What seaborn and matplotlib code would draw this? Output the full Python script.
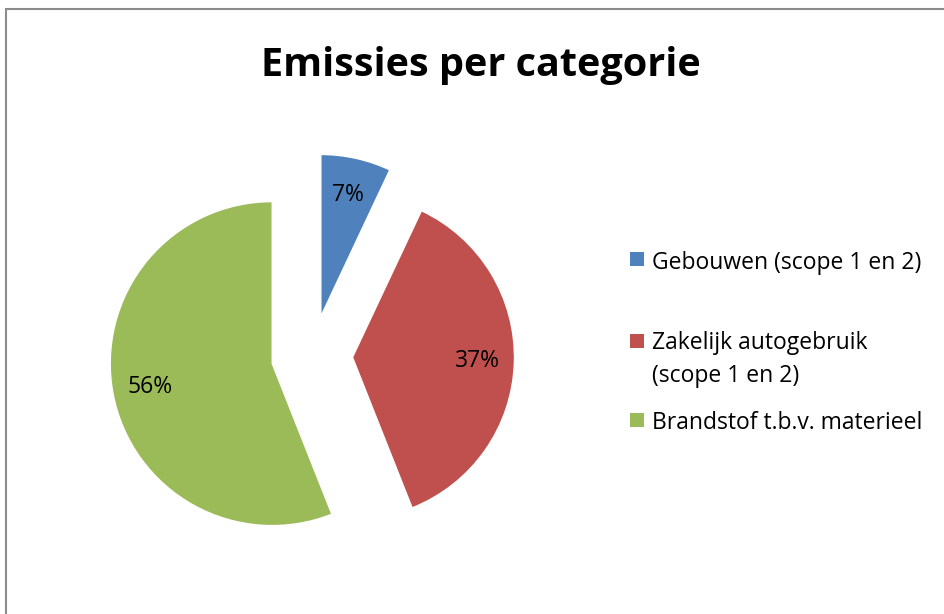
import matplotlib
matplotlib.use("Agg")
import matplotlib.pyplot as plt
import seaborn as sns
from matplotlib.patches import Rectangle

# data
categories = ["Gebouwen (scope 1 en 2)", "Zakelijk autogebruik", "Brandstof t.b.v. materieel"]
sublines = ["", "(scope 1 en 2)", ""]
shares = [7, 37, 56]
colors = ["#4F81BD", "#C0504D", "#9BBB59"]

sns.set_theme(style="white")
plt.rcParams['font.family'] = ['Open Sans', 'DejaVu Sans']

W, H = 944, 614
fig = plt.figure(figsize=(W / 100, H / 100), dpi=100)
fig.patch.set_facecolor("white")

# pie axes: center at (312, 356) px, radius 162 px, data range +-1.5
cx, cy, r = 312, 356, 162
span = 1.5 * r
ax = fig.add_axes([(cx - span) / W, (H - cy - span) / H, 2 * span / W, 2 * span / H])
wedges, texts, autotexts = ax.pie(
    shares,
    colors=colors,
    explode=[0.25] * len(shares),
    startangle=90,
    counterclock=False,
    autopct='%1.0f%%',
    pctdistance=0.77,
    textprops={'fontsize': 16.5, 'color': 'black'},
)
ax.set_xlim(-1.5, 1.5)
ax.set_ylim(-1.5, 1.5)
ax.set_aspect('equal')
ax.axis('off')

# title
fig.text(481 / W, 1 - 76 / H, "Emissies per categorie", ha='center', va='baseline',
         fontsize=28.5, fontweight='bold', color='black')

# legend (Excel style)
sq = 14
legend_rows = [(252, 269), (334, 349), (413, 429)]
for (top, base), lab, sub, col in zip(legend_rows, categories, sublines, colors):
    fig.add_artist(Rectangle((630 / W, 1 - (top + sq) / H), sq / W, sq / H,
                             transform=fig.transFigure, facecolor=col, edgecolor='none'))
    fig.text(652 / W, 1 - base / H, lab, ha='left', va='baseline', fontsize=16.5,
             color='black')
    if sub:
        fig.text(652 / W, 1 - (base + 33) / H, sub, ha='left', va='baseline',
                 fontsize=16.5, color='black')

# chart border
fig.add_artist(Rectangle((6 / W, -0.1), 1.2, 1.1 - 9 / H, transform=fig.transFigure,
                         facecolor='none', edgecolor='#8c8c8c', linewidth=1.5))

fig.savefig("out.png", dpi=100, facecolor='white')
